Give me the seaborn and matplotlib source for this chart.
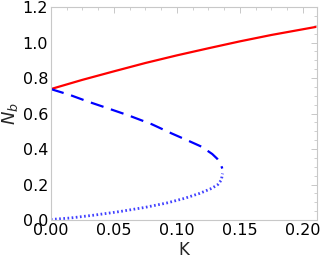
import matplotlib
matplotlib.use('Agg')
import matplotlib.pyplot as plt
import seaborn as sns
import pandas as pd
from matplotlib.ticker import MultipleLocator, AutoMinorLocator

# stable upper branch (solid red)
k_upper = [0.0, 0.025, 0.05, 0.075, 0.10, 0.125, 0.15, 0.175, 0.21]
n_upper = [0.738, 0.79, 0.838, 0.885, 0.928, 0.968, 1.007, 1.043, 1.088]

# unstable middle branch (dashed blue)
k_mid = [0.0, 0.015, 0.0296, 0.045, 0.0614, 0.08, 0.0958, 0.1096, 0.1196, 0.128, 0.132, 0.1345, 0.136]
n_mid = [0.738, 0.705, 0.667, 0.63, 0.59, 0.54, 0.488, 0.445, 0.413, 0.372, 0.345, 0.318, 0.29]

# lower branch (dotted blue)
k_low = [0.0, 0.015, 0.035, 0.055, 0.0746, 0.092, 0.106, 0.118, 0.1275, 0.1325, 0.1352, 0.1362]
n_low = [0.003, 0.011, 0.028, 0.048, 0.071, 0.096, 0.122, 0.15, 0.178, 0.2, 0.225, 0.262]

sns.set_style('white')
plt.rcParams['font.family'] = ['DejaVu Sans']
plt.rcParams['mathtext.fontset'] = 'dejavusans'

fig = plt.figure(figsize=(3.22, 2.63), dpi=100)
ax = fig.add_axes([0.158, 0.1635, 0.826, 0.8095])

df_up = pd.DataFrame({'K': k_upper, 'N': n_upper})
df_mid = pd.DataFrame({'K': k_mid, 'N': n_mid})
df_low = pd.DataFrame({'K': k_low, 'N': n_low})

sns.lineplot(data=df_up, x='K', y='N', ax=ax, color='#ff0000', lw=1.6, sort=False)
sns.lineplot(data=df_mid, x='K', y='N', ax=ax, color='#0000ff', lw=1.6, sort=False)
ax.lines[-1].set_dashes([6, 3.5])
sns.lineplot(data=df_low, x='K', y='N', ax=ax, color='#4040ff', lw=2.0, sort=False)
ax.lines[-1].set_dashes([0.6, 0.9])

ax.set_xlim(0, 0.211)
ax.set_ylim(0, 1.2)
ax.xaxis.set_major_locator(MultipleLocator(0.05))
ax.xaxis.set_minor_locator(AutoMinorLocator(4))
ax.yaxis.set_major_locator(MultipleLocator(0.2))
ax.yaxis.set_minor_locator(AutoMinorLocator(4))
ax.set_xticklabels([f'{v:.2f}' for v in ax.get_xticks()])
ax.set_yticklabels([f'{v:.1f}' for v in ax.get_yticks()])

for s in ax.spines.values():
    s.set_color('#c8c8c8')
    s.set_linewidth(0.8)
ax.tick_params(which='both', direction='in', top=True, right=True, color='#c8c8c8',
               labelsize=11.5, labelcolor='black', pad=2)
ax.tick_params(which='major', length=4, width=0.7)
ax.tick_params(which='minor', length=2.5, width=0.6)

ax.set_xlabel('K', fontsize=12, labelpad=2)
ax.set_ylabel(r'$N_b$', fontsize=13, labelpad=2)

fig.savefig('out.png', dpi=100)
